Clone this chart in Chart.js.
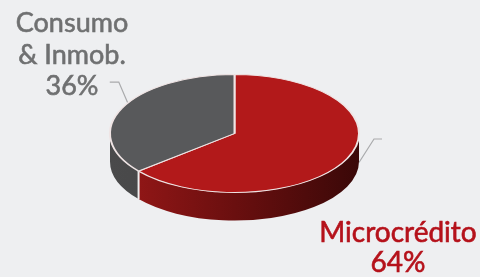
<!DOCTYPE html>
<html>
<head>
<meta charset="utf-8">
<script src="https://cdn.jsdelivr.net/npm/chart.js@4.4.0/dist/chart.umd.min.js"></script>
<style>
    html, body { margin: 0; padding: 0; background: #eeeff1; }
    #wrap { position: relative; width: 480px; height: 277px; overflow: hidden; }
    .lbl { position: absolute; font-family: Lato, 'Noto Sans', sans-serif; font-weight: 400; text-align: center; white-space: nowrap; -webkit-text-stroke: 0.6px currentColor; }
    #lblGray { left: -3px; top: 6px; width: 150px; font-size: 27px; line-height: 31.5px; color: #6f7071; }
    #lblRed { left: 318px; top: 216px; width: 160px; font-size: 28px; line-height: 30px; color: #b5121b; }
</style>
</head>
<body>
<div id="wrap">
    <canvas id="pie"></canvas>
    <div class="lbl" id="lblGray"></div>
    <div class="lbl" id="lblRed"></div>
</div>
<script>
'use strict';

// data
var categories = ['Microcrédito', 'Consumo & Inmob.'];
var shares = [64, 36];
var labelLines = [['Microcrédito', '64%'], ['Consumo', '& Inmob.', '36%']];

var topColors = ['#b2191a', '#58595b'];
var sideColors = [['#9a1818', '#6a0f0f', '#3a0808'], ['#4a4a4b', '#3d3d3e']];

var squash = 0.474;   // ry / rx of the tilted disc
var centerY = 133.5;  // where the top face sits on screen
var depth = 28;       // thickness of the disc

document.getElementById('lblRed').innerHTML = labelLines[0].join('<br>');
document.getElementById('lblGray').innerHTML = labelLines[1].join('<br>');

function tilt(chart) {
    var arc = chart.getDatasetMeta(0).data[0];
    var ctx = chart.ctx;
    ctx.save();
    ctx.translate(0, centerY);
    ctx.scale(1, squash);
    ctx.translate(0, -arc.y);
}

function clip(a0, a1) {
    // visible front half of the wall is 0..PI
    var lo = Math.max(a0, 0), hi = Math.min(a1, Math.PI);
    return hi > lo ? [lo, hi] : null;
}

var pie3d = {
    id: 'pie3d',
    beforeDatasetsDraw: function (chart) {
        var ctx = chart.ctx;
        var arcs = chart.getDatasetMeta(0).data;
        var cx = arcs[0].x, r = arcs[0].outerRadius;
        var rx = r, ry = r * squash;

        // leader lines, behind the disc
        ctx.save();
        ctx.strokeStyle = '#a9aaac';
        ctx.lineWidth = 1.2;
        var mid = 211 * Math.PI / 180;
        var px = cx + rx * Math.cos(mid), py = centerY + ry * Math.sin(mid);
        ctx.beginPath();
        ctx.moveTo(px, py);
        ctx.lineTo(px - 9, py - 21);
        ctx.lineTo(px - 18, py - 21);
        ctx.stroke();
        ctx.beginPath();
        ctx.moveTo(cx + rx, centerY + depth + 1);
        ctx.lineTo(cx + rx + 15, centerY + 5.5);
        ctx.lineTo(cx + rx + 23, centerY + 5.5);
        ctx.stroke();
        ctx.restore();

        // side walls
        tilt(chart);
        var d = depth / squash;
        arcs.forEach(function (a, i) {
            var span = clip(a.startAngle, a.endAngle);
            if (!span) return;
            var grad = ctx.createLinearGradient(cx - r, 0, cx + r, 0);
            var stops = sideColors[i];
            stops.forEach(function (c, k) { grad.addColorStop(k / (stops.length - 1), c); });
            ctx.beginPath();
            ctx.arc(a.x, a.y, r, span[0], span[1]);
            ctx.arc(a.x, a.y + d, r, span[1], span[0], true);
            ctx.closePath();
            ctx.fillStyle = grad;
            ctx.fill();
        });
        // divider on the wall
        arcs.forEach(function (a) {
            var ang = a.endAngle;
            if (ang > 0 && ang < Math.PI) {
                var x = a.x + r * Math.cos(ang), y = a.y + r * Math.sin(ang);
                ctx.beginPath();
                ctx.moveTo(x, y);
                ctx.lineTo(x, y + d);
                ctx.strokeStyle = '#eeeeee';
                ctx.lineWidth = 2;
                ctx.stroke();
            }
        });
        ctx.restore();

        tilt(chart);
    },
    afterDatasetsDraw: function (chart) {
        chart.ctx.restore();
    }
};

new Chart(document.getElementById('pie'), {
    type: 'pie',
    data: {
        labels: categories,
        datasets: [{
            data: shares,
            backgroundColor: topColors,
            borderColor: '#efe4e4',
            borderWidth: 2,
            hoverOffset: 0,
            offset: 0
        }]
    },
    options: {
        responsive: true,
        maintainAspectRatio: false,
        animation: false,
        events: [],
        layout: { padding: { top: 13, bottom: 13, left: 0, right: 11 } },
        plugins: {
            legend: { display: false },
            tooltip: { enabled: false }
        }
    },
    plugins: [pie3d]
});
</script>
</body>
</html>
